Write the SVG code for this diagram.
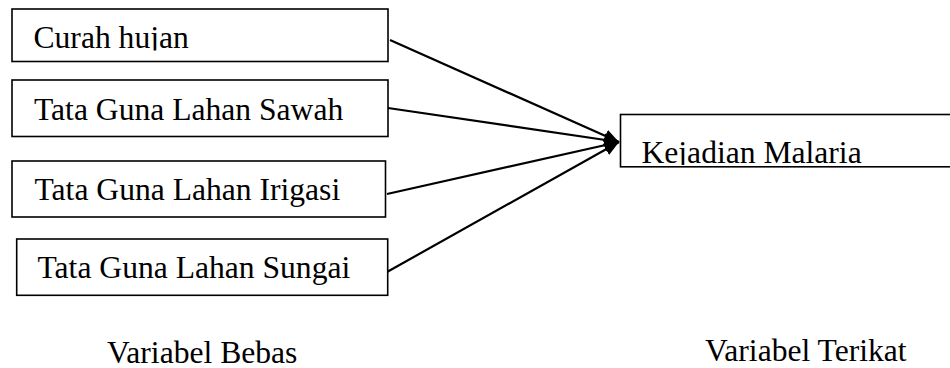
<svg xmlns="http://www.w3.org/2000/svg" width="950" height="368" viewBox="0 0 950 368">
<style>
.box{fill:#fff;stroke:#000;stroke-width:1.6}
.t{font-family:"Liberation Serif","Times New Roman",serif;font-size:31.6px;fill:#000}
.c{stroke:#000;stroke-width:2.2;fill:none;marker-end:url(#ah)}
</style>
<defs>
<marker id="ah" markerUnits="userSpaceOnUse" markerWidth="16" markerHeight="14" refX="15" refY="6.5" orient="auto">
<path d="M0,0 L15,6.5 L0,13 z" fill="#000"/>
</marker>
<clipPath id="clip1"><rect x="12" y="9" width="376" height="41.5"/></clipPath>
<clipPath id="clip5"><rect x="620" y="114" width="330" height="51"/></clipPath>
</defs>
<rect width="950" height="368" fill="#fff"/>
<g id="connectors">
<line class="c" x1="390" y1="40" x2="619" y2="142"/>
<line class="c" x1="388" y1="108" x2="619" y2="142"/>
<line class="c" x1="387" y1="194" x2="619" y2="142"/>
<line class="c" x1="387" y1="272" x2="619" y2="142"/>
</g>
<g id="n1">
<rect class="box" x="12" y="9" width="376" height="52.5"/>
<text class="t" x="33.5" y="48.3" clip-path="url(#clip1)">Curah hujan</text>
</g>
<g id="n2">
<rect class="box" x="12" y="80" width="376" height="56.5"/>
<text class="t" x="34" y="120">Tata Guna Lahan Sawah</text>
</g>
<g id="n3">
<rect class="box" x="12" y="161" width="373.5" height="56"/>
<text class="t" x="34.5" y="200">Tata Guna Lahan Irigasi</text>
</g>
<g id="n4">
<rect class="box" x="16.7" y="239" width="371" height="56.3"/>
<text class="t" x="37.5" y="277.7">Tata Guna Lahan Sungai</text>
</g>
<g id="n5">
<rect class="box" x="620.5" y="114.5" width="340" height="52.3"/>
<text class="t" x="641.5" y="163.3" clip-path="url(#clip5)">Kejadian Malaria</text>
</g>
<text class="t" x="107" y="362.5">Variabel Bebas</text>
<text class="t" x="705" y="360.5">Variabel Terikat</text>
</svg>
